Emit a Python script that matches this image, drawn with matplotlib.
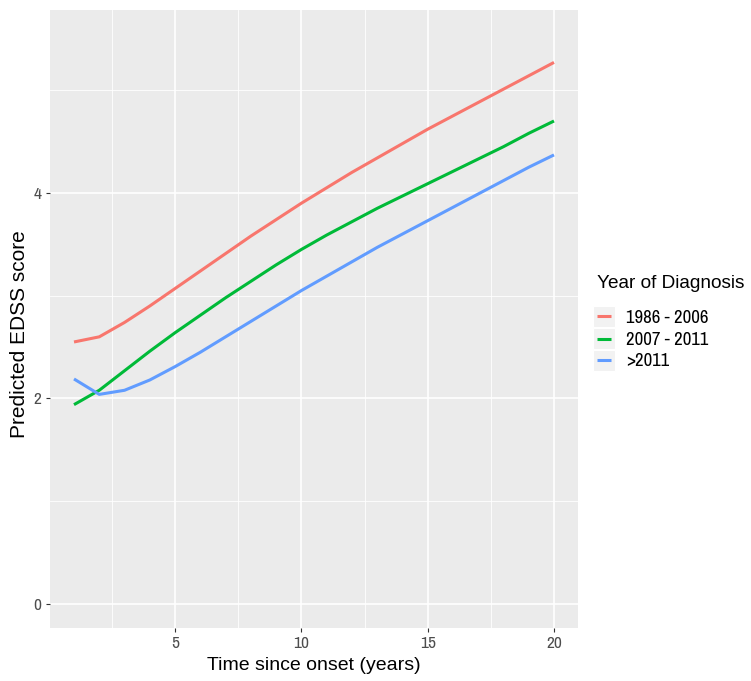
import numpy as np
import matplotlib.pyplot as plt
from matplotlib.lines import Line2D
from matplotlib.patches import Rectangle

# data
years = np.arange(1, 21)
edss_1986_2006 = [2.55, 2.60, 2.74, 2.90, 3.07, 3.24, 3.41, 3.58, 3.74, 3.90,
                  4.05, 4.20, 4.34, 4.48, 4.62, 4.75, 4.88, 5.01, 5.14, 5.27]
edss_2007_2011 = [1.94, 2.08, 2.27, 2.46, 2.64, 2.81, 2.98, 3.14, 3.30, 3.45,
                  3.59, 3.72, 3.85, 3.97, 4.09, 4.21, 4.33, 4.45, 4.58, 4.70]
edss_after_2011 = [2.19, 2.04, 2.08, 2.18, 2.31, 2.45, 2.60, 2.75, 2.90, 3.05,
                   3.19, 3.33, 3.47, 3.60, 3.73, 3.86, 3.99, 4.12, 4.25, 4.37]
labels = ["1986 - 2006", "2007 - 2011", ">2011"]
colors = ["#F8766D", "#00BA38", "#619CFF"]

narrow = ["Archivo Narrow", "Liberation Sans", "DejaVu Sans"]

W, H = 751, 681
fig = plt.figure(figsize=(W / 100, H / 100), dpi=100)
ax = fig.add_axes([50 / W, 53 / H, 528 / W, 618 / H])
ax.set_facecolor("#EBEBEB")

for ys, lab, c in zip([edss_1986_2006, edss_2007_2011, edss_after_2011], labels, colors):
    ax.plot(years, ys, color=c, lw=2.2, label=lab, solid_capstyle="butt")

ax.set_xlim(0.05, 20.95)
ax.set_ylim(-0.233, 5.78)
ax.set_xticks([5, 10, 15, 20])
ax.set_yticks([0, 2, 4])
ax.set_xticks([2.5, 7.5, 12.5, 17.5], minor=True)
ax.set_yticks([1, 3, 5], minor=True)
ax.grid(which="major", color="white", lw=1.2)
ax.grid(which="minor", color="white", lw=0.6)
ax.set_axisbelow(True)
for s in ax.spines.values():
    s.set_visible(False)

ax.tick_params(which="major", length=3, width=0.8, color="#333333",
               labelcolor="#4D4D4D", labelsize=12.5, pad=3)
ax.tick_params(which="minor", length=0)
for t in ax.get_xticklabels() + ax.get_yticklabels():
    t.set_family(narrow)

# axis titles
def px(x, y):
    return x / W, 1 - y / H

fig.text(*px(314, 670), "Time since onset (years)", fontsize=14,
         family="Liberation Sans", ha="center", va="baseline")
fig.text(*px(20, 334), "Predicted EDSS score", fontsize=15, rotation=90,
         family="Liberation Sans", ha="center", va="center")

# legend, drawn by hand in the ggplot style
fig.text(*px(597, 288), "Year of Diagnosis", fontsize=13.7,
         family="Liberation Sans", ha="left", va="baseline")
key_y = [316.5, 338.5, 360]
for yk, lab, c in zip(key_y, labels, colors):
    x0, y0 = px(593, yk + 10.5)
    fig.add_artist(Rectangle((x0, y0), 22 / W, 21 / H, transform=fig.transFigure,
                             facecolor="#F2F2F2", edgecolor="white", lw=0.8))
    xa, ya = px(597, yk)
    xb, _ = px(611, yk)
    fig.add_artist(Line2D([xa, xb], [ya, ya], color=c, lw=2.2,
                          transform=fig.transFigure, solid_capstyle="butt"))
    fig.text(*px(626, yk + 6.5), lab, fontsize=13.5, family=narrow,
             ha="left", va="baseline")

fig.savefig("out.png", dpi=100)
